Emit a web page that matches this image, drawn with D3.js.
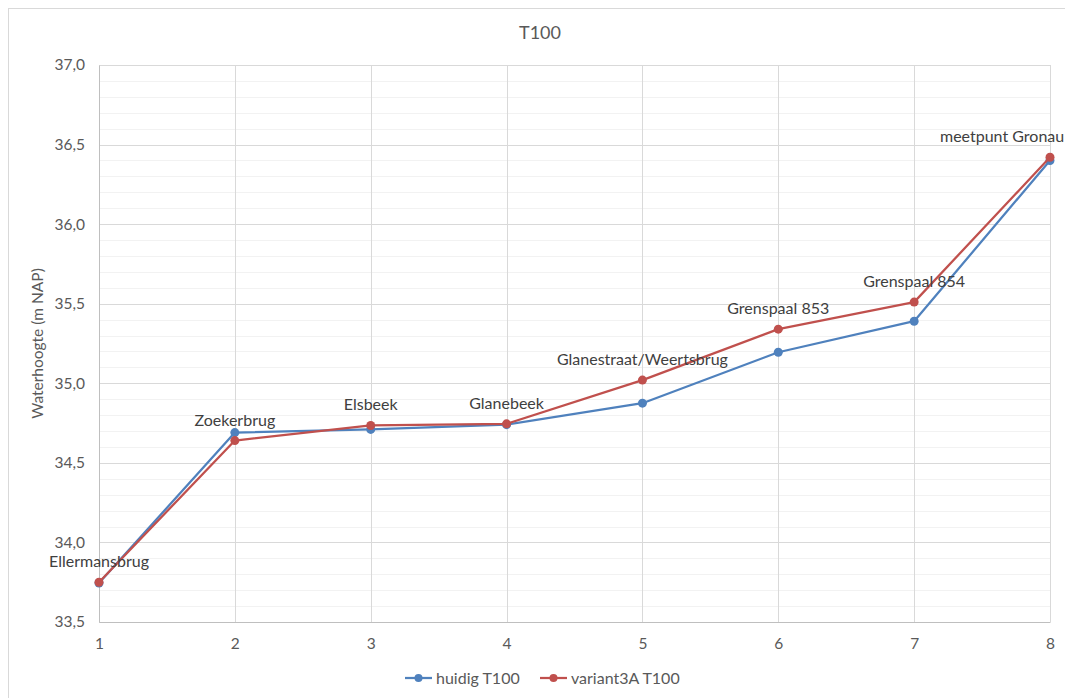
<!DOCTYPE html>
<html>
<head>
<meta charset="utf-8">
<script src="https://cdn.jsdelivr.net/npm/d3@7"></script>
<style>
html,body{margin:0;padding:0;background:#fff;overflow:hidden}
svg{display:block;font-family:Lato,"Open Sans",sans-serif}
</style>
</head>
<body>
<svg id="chart" width="1065" height="698"></svg>
<script>
const xValues = [1, 2, 3, 4, 5, 6, 7, 8];
const locations = ["Ellermansbrug", "Zoekerbrug", "Elsbeek", "Glanebeek", "Glanestraat/Weertsbrug", "Grenspaal 853", "Grenspaal 854", "meetpunt Gronau"];
const huidig = [33.745, 34.69, 34.71, 34.74, 34.875, 35.195, 35.39, 36.40];
const variant = [33.75, 34.64, 34.735, 34.745, 35.02, 35.34, 35.51, 36.42];
const seriesNames = ["huidig T100", "variant3A T100"];
const yTicks = [33.5, 34.0, 34.5, 35.0, 35.5, 36.0, 36.5, 37.0];
const titleText = "T100";
const yTitle = "Waterhoogte (m NAP)";

const colors = ["#4F81BD", "#C0504D"];
const svg = d3.select("#chart");
const W = 1065, H = 698;
const m = {left: 99, right: 1050, top: 65, bottom: 622};

// chart border
svg.append("rect").attr("x", 8.5).attr("y", 8.5).attr("width", W + 10).attr("height", H + 10)
  .attr("fill", "none").attr("stroke", "#d9d9d9");

const x = d3.scaleLinear().domain([1, 8]).range([m.left, m.right]);
const y = d3.scaleLinear().domain([33.5, 37.0]).range([m.bottom, m.top]);

// minor gridlines
const minor = d3.range(33.6, 37.0, 0.1).filter(v => Math.abs(v * 2 - Math.round(v * 2)) > 0.01);
svg.append("g").selectAll("line").data(minor).join("line")
  .attr("x1", m.left).attr("x2", m.right)
  .attr("y1", d => Math.round(y(d)) + 0.5).attr("y2", d => Math.round(y(d)) + 0.5)
  .attr("stroke", "#f2f2f2").attr("stroke-width", 1);

// major horizontal gridlines
svg.append("g").selectAll("line").data(yTicks).join("line")
  .attr("x1", m.left).attr("x2", m.right)
  .attr("y1", d => Math.round(y(d)) + 0.5).attr("y2", d => Math.round(y(d)) + 0.5)
  .attr("stroke", "#d9d9d9").attr("stroke-width", 1);

// vertical gridlines
svg.append("g").selectAll("line").data(xValues).join("line")
  .attr("x1", d => Math.round(x(d)) + 0.5).attr("x2", d => Math.round(x(d)) + 0.5)
  .attr("y1", m.top).attr("y2", m.bottom)
  .attr("stroke", "#d9d9d9").attr("stroke-width", 1);

// axes
const fmt = d => d.toFixed(1).replace(".", ",");
const yAxis = svg.append("g").attr("transform", `translate(${m.left},0)`)
  .call(d3.axisLeft(y).tickValues(yTicks).tickFormat(fmt).tickSize(0).tickPadding(14));
yAxis.select(".domain").attr("stroke", "#bfbfbf");
yAxis.selectAll("text").attr("fill", "#595959").style("font-size", "15.5px").style("font-family", "Lato,sans-serif");

const xAxis = svg.append("g").attr("transform", `translate(0,${m.bottom})`)
  .call(d3.axisBottom(x).tickValues(xValues).tickFormat(d3.format("d")).tickSize(0).tickPadding(16));
xAxis.select(".domain").attr("stroke", "#bfbfbf");
xAxis.selectAll("text").attr("fill", "#595959").style("font-size", "15.5px").style("font-family", "Lato,sans-serif");

// lines
const line = d3.line().x((d, i) => x(xValues[i])).y(d => y(d));
[huidig, variant].forEach((s, k) => {
  svg.append("path").datum(s).attr("d", line).attr("fill", "none")
    .attr("stroke", colors[k]).attr("stroke-width", 2.25).attr("stroke-linejoin", "round");
  svg.append("g").selectAll("circle").data(s).join("circle")
    .attr("cx", (d, i) => x(xValues[i])).attr("cy", d => y(d)).attr("r", 4.5)
    .attr("fill", colors[k]);
});

// data labels (above variant series)
const labelDx = [0, 0, 0, 0, 0, 0, 0, -110];
const labelAnchor = ["middle", "middle", "middle", "middle", "middle", "middle", "middle", "start"];
svg.append("g").selectAll("text").data(variant).join("text")
  .attr("x", (d, i) => x(xValues[i]) + labelDx[i]).attr("y", d => y(d) - 15)
  .attr("text-anchor", (d, i) => labelAnchor[i]).attr("fill", "#404040").style("font-size", "16px")
  .text((d, i) => locations[i]);

// title
svg.append("text").attr("x", 540).attr("y", 39).attr("text-anchor", "middle")
  .attr("fill", "#595959").style("font-size", "18px").text(titleText);

// y title
svg.append("text").attr("transform", `translate(43,${(m.top + m.bottom) / 2}) rotate(-90)`)
  .attr("text-anchor", "middle").attr("fill", "#595959").style("font-size", "15.5px").text(yTitle);

// legend
const legX = [405, 540];
seriesNames.forEach((n, k) => {
  const g = svg.append("g").attr("transform", `translate(${legX[k]},678)`);
  g.append("line").attr("x1", 0).attr("x2", 27).attr("y1", 0).attr("y2", 0)
    .attr("stroke", colors[k]).attr("stroke-width", 2.25);
  g.append("circle").attr("cx", 13.5).attr("cy", 0).attr("r", 4).attr("fill", colors[k]);
  g.append("text").attr("x", 31).attr("y", 5.5).attr("fill", "#595959").style("font-size", "16px").text(n);
});
</script>
</body>
</html>
